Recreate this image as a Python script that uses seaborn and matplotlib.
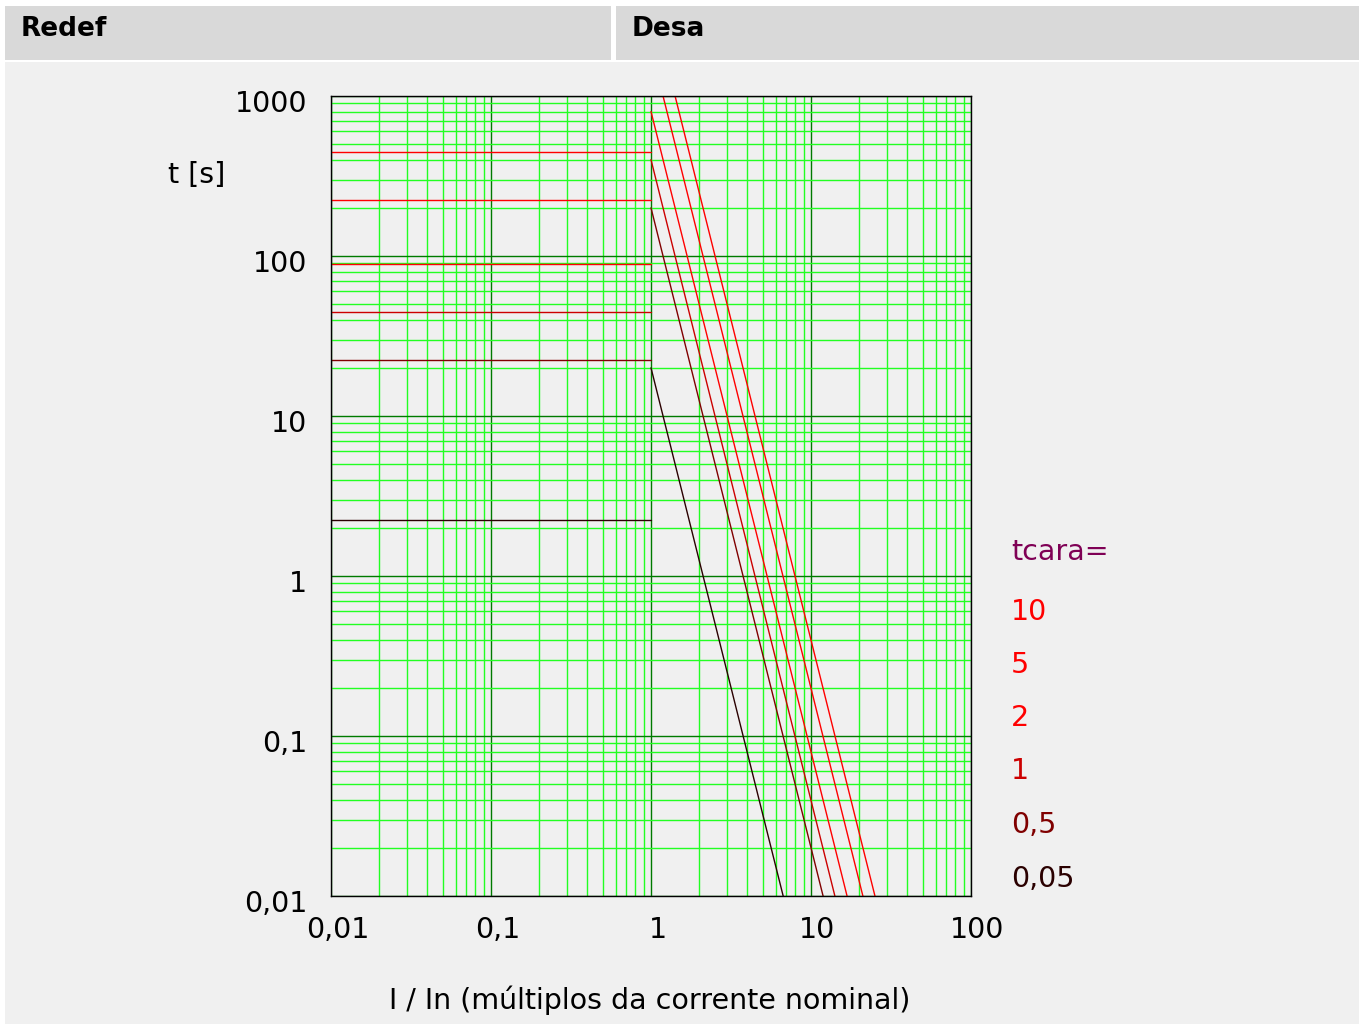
import numpy as np
import pandas as pd
import matplotlib
matplotlib.use("Agg")
import matplotlib.pyplot as plt
import matplotlib.transforms as mtransforms
from matplotlib.patches import Rectangle
from matplotlib.ticker import FixedLocator, LogLocator, NullFormatter
import seaborn as sns

# ---------------- data ----------------
tchar_labels = ["10", "5", "2", "1", "0,5", "0,05"]
tchar_colors = ["#ff0000", "#ff0000", "#ff0000", "#cc0000", "#800000", "#2a0000"]
plateau_t = [447, 224, 89.4, 44.7, 22.4, 2.24]      # t for I/In < 1
start_t = [4000, 2000, 800, 400, 200, 20]            # t at I/In = 1
end_I = [25.1, 21.1, 16.8, 14.1, 11.9, 6.7]          # I/In where t reaches 0.01
I_min, I_knee = 0.01, 1.0
t_min = 0.01

x_ticks = [0.01, 0.1, 1, 10, 100]
x_ticklabels = ["0,01", "0,1", "1", "10", "100"]
y_ticks = [0.01, 0.1, 1, 10, 100, 1000]
y_ticklabels = ["0,01", "0,1", "1", "10", "100", "1000"]

header_left = "Redef"
header_right = "Desa"
y_title = "t [s]"
x_title = "I / In (múltiplos da corrente nominal)"
legend_title = "tcara="

# ---------------- build table ----------------
rows = []
for lab, pt, st, ei in zip(tchar_labels, plateau_t, start_t, end_I):
    rows += [dict(I=I_min, t=pt, tchar=lab, seg=lab + "a"),
             dict(I=I_knee, t=pt, tchar=lab, seg=lab + "a"),
             dict(I=I_knee, t=st, tchar=lab, seg=lab + "b"),
             dict(I=ei, t=t_min, tchar=lab, seg=lab + "b")]
df = pd.DataFrame(rows)

# ---------------- figure ----------------
sns.set_theme(style="white")
plt.rcParams["font.family"] = ["DejaVu Sans"]
plt.rcParams["text.color"] = "black"
W, H = 1365, 1024
FS = 20.5
fig = plt.figure(figsize=(W / 100, H / 100), dpi=100, facecolor="white")

def px_rect(x0, y0, x1, y1, color):
    fig.add_artist(Rectangle((x0 / W, 1 - y1 / H), (x1 - x0) / W, (y1 - y0) / H,
                             transform=fig.transFigure, facecolor=color,
                             edgecolor="none", zorder=0))

px_rect(5, 6, 611, 60, "#d9d9d9")
px_rect(616, 6, 1359, 60, "#d9d9d9")
px_rect(5, 62, 1359, 1024, "#f0f0f0")
fig.text(21 / W, 1 - 29 / H, header_left, fontsize=19, fontweight="bold",
         ha="left", va="center", color="black")
fig.text(632 / W, 1 - 29 / H, header_right, fontsize=19, fontweight="bold",
         ha="left", va="center", color="black")

ax = fig.add_axes([331 / W, 1 - 896 / H, 640 / W, 800 / H])
ax.set_facecolor("#f0f0f0")
palette = dict(zip(tchar_labels, tchar_colors))
sns.lineplot(data=df, x="I", y="t", hue="tchar", units="seg", estimator=None,
             sort=False, palette=palette, legend=False, linewidth=1.0, ax=ax)

ax.set_xscale("log")
ax.set_yscale("log")
ax.set_xlim(0.01, 100)
ax.set_ylim(0.01, 1000)
ax.set_axisbelow(True)
ax.xaxis.set_major_locator(FixedLocator(x_ticks))
ax.yaxis.set_major_locator(FixedLocator(y_ticks))
ax.xaxis.set_minor_locator(LogLocator(base=10, subs=range(2, 10), numticks=50))
ax.yaxis.set_minor_locator(LogLocator(base=10, subs=range(2, 10), numticks=50))
ax.xaxis.set_minor_formatter(NullFormatter())
ax.yaxis.set_minor_formatter(NullFormatter())
ax.set_xticklabels(x_ticklabels)
ax.set_yticklabels(y_ticklabels)
ax.grid(which="minor", color="#22ff22", linewidth=1.0)
ax.grid(which="major", color="#007a00", linewidth=1.0)
ax.tick_params(which="both", length=0)
ax.tick_params(axis="y", pad=17, labelsize=FS, labelcolor="black")
ax.tick_params(axis="x", pad=14.5, labelsize=FS, labelcolor="black")
for s in ax.spines.values():
    s.set_color("black")
    s.set_linewidth(1.0)
ax.set_xlabel("")
ax.set_ylabel("")

offx = mtransforms.ScaledTranslation(0.065, 0, fig.dpi_scale_trans)
offy = mtransforms.ScaledTranslation(0, -0.05, fig.dpi_scale_trans)
for lb in ax.get_xticklabels():
    lb.set_transform(lb.get_transform() + offx)
for lb in ax.get_yticklabels():
    lb.set_transform(lb.get_transform() + offy)

fig.text(197 / W, 1 - 175 / H, y_title, fontsize=FS, ha="center", va="center",
         color="black")
fig.text(650 / W, 1 - 1000 / H, x_title, fontsize=FS, ha="center", va="center",
         color="black")

legend_y = [612, 665, 718, 771, 825, 879]
fig.text(1011 / W, 1 - 552 / H, legend_title, fontsize=FS, color="#7f0055",
         ha="left", va="center")
for lab, col, yy in zip(tchar_labels, tchar_colors, legend_y):
    fig.text(1011 / W, 1 - yy / H, lab, fontsize=FS, color=col,
             ha="left", va="center")

fig.savefig("out.png", dpi=100, facecolor="white")
